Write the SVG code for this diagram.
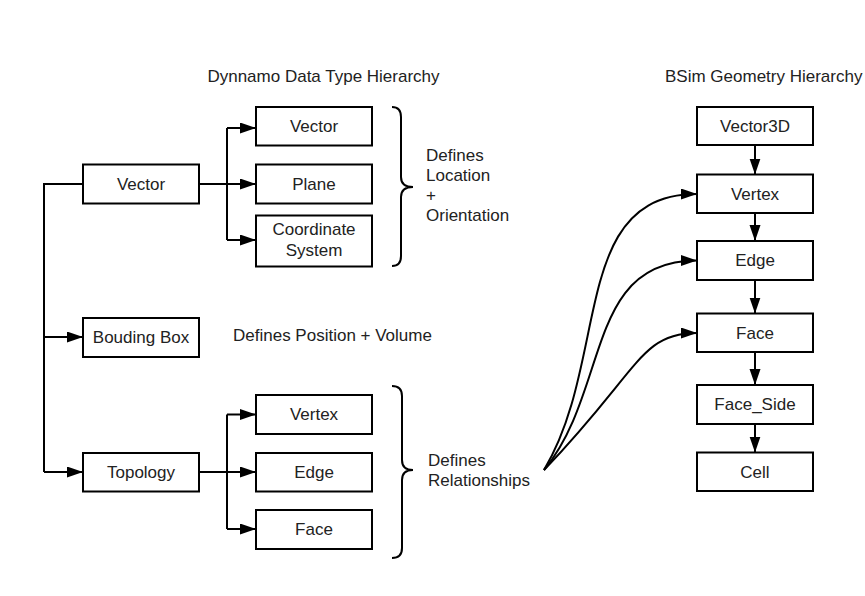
<svg xmlns="http://www.w3.org/2000/svg" width="865" height="596" viewBox="0 0 865 596">
<defs>
<marker id="ah" markerUnits="userSpaceOnUse" markerWidth="18" markerHeight="12" refX="16" refY="5.5" orient="auto">
<path d="M0,0 L16,5.5 L0,11 z" fill="#000"/>
</marker>
<style>
.box{fill:#fff;stroke:#000;stroke-width:2}
.t{font-family:"Liberation Sans",Arial,sans-serif;font-size:17px;fill:#222}
.c{text-anchor:middle}
.ln{fill:none;stroke:#000;stroke-width:2}
.ar{fill:none;stroke:#000;stroke-width:2;marker-end:url(#ah)}
</style>
</defs>
<rect width="865" height="596" fill="#fff"/>
<text class="t c" x="323.5" y="82">Dynnamo Data Type Hierarchy</text>
<text class="t" x="665" y="82">BSim Geometry Hierarchy</text>

<g id="connectors">
<path class="ln" d="M83,184 H44 V472"/>
<path class="ar" d="M44,337 H83"/>
<path class="ar" d="M44,472 H83"/>
<path class="ar" d="M199,184 H256"/>
<path class="ln" d="M227,128 V240"/>
<path class="ar" d="M227,128 H256"/>
<path class="ar" d="M227,240 H256"/>
<path class="ar" d="M199,472 H256"/>
<path class="ln" d="M227,414.5 V529"/>
<path class="ar" d="M227,414.5 H256"/>
<path class="ar" d="M227,529 H256"/>
<path class="ar" d="M755,145 V174.5"/>
<path class="ar" d="M755,213 V241"/>
<path class="ar" d="M755,280 V313.5"/>
<path class="ar" d="M755,352 V385"/>
<path class="ar" d="M755,424 V452.5"/>
<path class="ar" d="M544,470 C610,360 570,194 697,194"/>
<path class="ar" d="M544,470 C610,390 585,260.5 697,260.5"/>
<path class="ar" d="M544,470 C640,370 640,333 697,333"/>
<path class="ln" d="M392,107 Q401,107 401,117 L401,177 Q401,187 413,187 Q401,187 401,197 L401,256 Q401,266 392,266"/>
<path class="ln" d="M392,386 Q402,386 402,396 L402,460 Q402,470 413,470 Q402,470 402,480 L402,548 Q402,558 392,558"/>
</g>

<g id="n-vector"><rect class="box" x="83" y="164.5" width="116" height="39"/><text class="t c" x="141" y="190">Vector</text></g>
<g id="n-bbox"><rect class="box" x="83" y="318" width="116" height="39"/><text class="t c" x="141" y="343">Bouding Box</text></g>
<g id="n-topology"><rect class="box" x="83" y="453" width="116" height="38.5"/><text class="t c" x="141" y="478">Topology</text></g>
<g id="n-vector2"><rect class="box" x="256" y="107" width="116" height="38.5"/><text class="t c" x="314" y="132">Vector</text></g>
<g id="n-plane"><rect class="box" x="256" y="164.5" width="116" height="39"/><text class="t c" x="314" y="190">Plane</text></g>
<g id="n-coord"><rect class="box" x="256" y="215.5" width="116" height="51"/><text class="t c" x="314" y="235">Coordinate</text><text class="t c" x="314" y="255.5">System</text></g>
<g id="n-vertex"><rect class="box" x="256" y="395" width="116" height="39"/><text class="t c" x="314" y="420">Vertex</text></g>
<g id="n-edge"><rect class="box" x="256" y="453" width="116" height="38.5"/><text class="t c" x="314" y="478">Edge</text></g>
<g id="n-face"><rect class="box" x="256" y="510" width="116" height="39"/><text class="t c" x="314" y="535">Face</text></g>

<g id="label-loc"><text class="t" x="426" y="161">Defines</text><text class="t" x="426" y="181">Location</text><text class="t" x="426" y="201">+</text><text class="t" x="426" y="221">Orientation</text></g>
<g id="label-pos"><text class="t" x="233" y="341">Defines Position + Volume</text></g>
<g id="label-rel"><text class="t" x="428" y="466">Defines</text><text class="t" x="428" y="486">Relationships</text></g>

<g id="r-vector3d"><rect class="box" x="697" y="107" width="116" height="38"/><text class="t c" x="755" y="132">Vector3D</text></g>
<g id="r-vertex"><rect class="box" x="697" y="174.5" width="116" height="38.5"/><text class="t c" x="755" y="199.5">Vertex</text></g>
<g id="r-edge"><rect class="box" x="697" y="241" width="116" height="39"/><text class="t c" x="755" y="266">Edge</text></g>
<g id="r-face"><rect class="box" x="697" y="313.5" width="116" height="38.5"/><text class="t c" x="755" y="338.5">Face</text></g>
<g id="r-faceside"><rect class="box" x="697" y="385" width="116" height="39"/><text class="t c" x="755" y="410">Face_Side</text></g>
<g id="r-cell"><rect class="box" x="697" y="452.5" width="116" height="38.5"/><text class="t c" x="755" y="477.5">Cell</text></g>
</svg>
